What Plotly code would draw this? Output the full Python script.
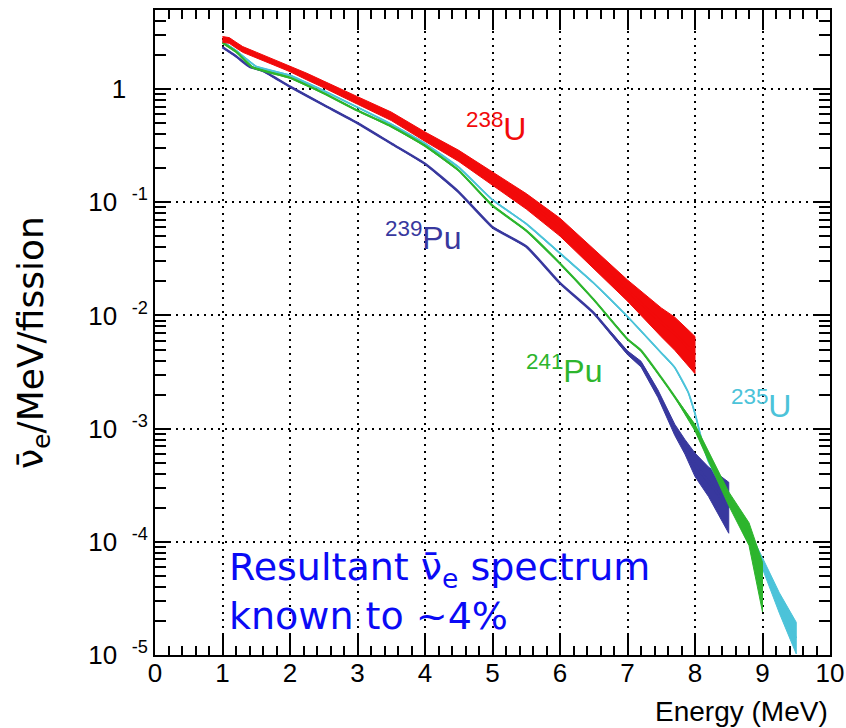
import numpy as np
import plotly.graph_objects as go

# Reactor antineutrino spectra per fission for the four main fissile isotopes.
# flux_* : nu_e / MeV / fission ; err_* : fractional band half-width

energy_u238 = [1.0, 1.1, 1.2, 1.3, 1.5, 1.75, 2.0, 2.25, 2.5, 2.75, 3.0, 3.5,
               4.0, 4.5, 5.0, 5.5, 6.0, 6.5, 7.0, 7.5, 7.7, 8.0]
flux_u238 = [2.75, 2.69, 2.45, 2.24, 2.00, 1.74, 1.51, 1.29, 1.10, 0.933, 0.794, 0.575,
             0.380, 0.257, 0.162, 0.102, 0.0603, 0.0316, 0.0166, 0.0087, 0.0069, 0.00447]
err_u238 = [0.06, 0.06, 0.06, 0.06, 0.06, 0.06, 0.06, 0.07, 0.07, 0.07, 0.08, 0.09,
            0.10, 0.12, 0.14, 0.17, 0.20, 0.22, 0.24, 0.34, 0.40, 0.46]

energy_u235 = [1.0, 1.2, 1.5, 2.0, 2.5, 3.0, 3.5, 4.0, 4.5, 5.0, 5.5, 6.0, 6.5,
               7.0, 7.5, 7.7, 7.9, 8.0, 8.1, 8.2, 8.5, 8.8, 9.0, 9.25, 9.5]
flux_u235 = [2.63, 2.19, 1.58, 1.32, 0.966, 0.692, 0.490, 0.331, 0.204, 0.105, 0.0646,
             0.0355, 0.0193, 0.00977, 0.00468, 0.00347, 0.00209, 0.00136, 7.94e-4,
             5.13e-4, 2.40e-4, 1.26e-4, 6.46e-5, 2.88e-5, 1.41e-5]
err_u235 = [0.01] * 22 + [0.12, 0.23, 0.38]

energy_pu241 = [1.0, 1.2, 1.45, 2.0, 2.5, 3.0, 3.5, 4.0, 4.5, 5.0, 5.5, 6.0, 6.5,
                7.0, 7.2, 7.5, 7.7, 8.0, 8.2, 8.5, 8.8, 9.0]
flux_pu241 = [2.57, 2.14, 1.55, 1.26, 0.920, 0.646, 0.468, 0.316, 0.191, 0.0933,
              0.0562, 0.0288, 0.0138, 0.00617, 0.00490, 0.00282, 0.00191, 0.00102,
              5.75e-4, 2.40e-4, 1.17e-4, 3.98e-5]
err_pu241 = [0.01] * 17 + [0.07, 0.10, 0.15, 0.26, 0.66]

energy_pu239 = [1.0, 1.2, 1.4, 1.6, 2.0, 2.5, 3.0, 3.5, 4.0, 4.5, 5.0, 5.5, 6.0, 6.5,
                7.0, 7.2, 7.45, 7.7, 7.85, 8.0, 8.2, 8.5]
flux_pu239 = [2.34, 1.95, 1.58, 1.45, 1.05, 0.724, 0.501, 0.331, 0.219, 0.123, 0.0603,
              0.0407, 0.0193, 0.0105, 0.00468, 0.00372, 0.00204, 9.77e-4, 6.92e-4,
              4.79e-4, 3.39e-4, 2.00e-4]
err_pu239 = [0.01] * 14 + [0.04, 0.06, 0.08, 0.12, 0.16, 0.27, 0.35, 0.68]

x_ticks = list(range(0, 11))
y_ticks = [1e-5, 1e-4, 1e-3, 1e-2, 1e-1, 1]
y_ticktext = ["10\u00a0\u00a0<sup>-5</sup>", "10\u00a0\u00a0<sup>-4</sup>",
              "10\u00a0\u00a0<sup>-3</sup>", "10\u00a0\u00a0<sup>-2</sup>",
              "10\u00a0\u00a0<sup>-1</sup>", "1\u00a0\u00a0\u00a0"]

RED = "#f20a0a"
BLUE = "#38389e"
GREEN = "#2db52d"
CYAN = "#4cc3d9"
TEXT_BLUE = "#0a0af5"


def band(energy, flux, err):
    e = np.asarray(energy, dtype=float)
    f = np.asarray(flux, dtype=float)
    s = np.asarray(err, dtype=float)
    hi = f * (1 + s)
    lo = f / (1 + s)
    return np.concatenate([e, e[::-1]]), np.concatenate([hi, lo[::-1]])


fig = go.Figure()

series = [
    (energy_pu239, flux_pu239, err_pu239, BLUE, 2.5),
    (energy_u235, flux_u235, err_u235, CYAN, 1.8),
    (energy_pu241, flux_pu241, err_pu241, GREEN, 2.2),
    (energy_u238, flux_u238, err_u238, RED, 2.5),
]
for energy, flux, err, color, lw in series:
    bx, by = band(energy, flux, err)
    fig.add_trace(go.Scatter(x=bx, y=by, mode="lines", fill="toself",
                             fillcolor=color, line=dict(color=color, width=1),
                             hoverinfo="skip", showlegend=False))
    fig.add_trace(go.Scatter(x=energy, y=flux, mode="lines",
                             line=dict(color=color, width=lw, shape="spline", smoothing=0.5),
                             showlegend=False))

# minor log ticks 2..9 in each decade
minor_y = [m * 10.0 ** d for d in range(-5, 1) for m in range(2, 10) if m * 10.0 ** d <= 5]

tick_font = dict(family="Liberation Sans, Arial, sans-serif", size=26, color="black")

fig.update_layout(
    template="none",
    xaxis=dict(
        range=[0, 10], tickmode="array", tickvals=x_ticks,
        ticks="inside", ticklen=20, tickwidth=2, tickcolor="black",
        showline=True, linewidth=2, linecolor="black", mirror="ticks",
        showgrid=True, gridcolor="black", gridwidth=2, griddash="2px,5px",
        zeroline=False, tickfont=tick_font, layer="above traces",
        ticklabelstandoff=-6,
        minor=dict(dtick=0.2, ticks="inside", ticklen=9, tickwidth=1.5,
                   tickcolor="black", showgrid=False),
    ),
    yaxis=dict(
        type="log", range=[-5, float(np.log10(5))], tickmode="array",
        tickvals=y_ticks, ticktext=y_ticktext,
        ticks="inside", ticklen=15, tickwidth=2, tickcolor="black",
        showline=True, linewidth=2, linecolor="black", mirror="ticks",
        showgrid=True, gridcolor="black", gridwidth=2, griddash="2px,5px",
        zeroline=False, tickfont=tick_font, layer="above traces",
        minor=dict(tickmode="array", tickvals=minor_y, ticks="inside", ticklen=11,
                   tickwidth=1.5, tickcolor="black", showgrid=False),
    ),
)

iso_font = "Liberation Sans, Arial, sans-serif"
annotations = [
    dict(x=5.05, y=-0.335, text="<sup>238</sup>U", font=dict(family=iso_font, size=32, color=RED)),
    dict(x=3.98, y=-1.295, text="<sup>239</sup>Pu", font=dict(family=iso_font, size=32, color=BLUE)),
    dict(x=6.07, y=-2.476, text="<sup>241</sup>Pu", font=dict(family=iso_font, size=32, color=GREEN)),
    dict(x=8.98, y=-2.784, text="<sup>235</sup>U", font=dict(family=iso_font, size=32, color=CYAN)),
    dict(x=1.07, y=-4.44, xanchor="left", align="left",
         text="Resultant \u03bd\u0304<sub>e</sub> spectrum<br>known to ~4%",
         font=dict(family="DejaVu Sans", size=38, color=TEXT_BLUE)),
]
for a in annotations:
    a.setdefault("xanchor", "center")
    a["yanchor"] = "middle"
    a["xref"] = "x"
    a["yref"] = "y"
    a["showarrow"] = False
    fig.add_annotation(**a)

fig.add_annotation(xref="paper", yref="paper", x=-0.181, y=0.485,
                   text="\u03bd\u0304<sub>e</sub>/MeV/fission", textangle=-90,
                   showarrow=False, xanchor="center", yanchor="middle",
                   font=dict(family="DejaVu Sans", size=36, color="black"))
fig.add_annotation(xref="paper", yref="paper", x=1.0, y=-0.088,
                   text="Energy (MeV)", showarrow=False,
                   xanchor="right", yanchor="middle",
                   font=dict(family="Liberation Sans, Arial, sans-serif", size=28, color="black"))

fig.update_layout(
    width=846, height=728,
    margin=dict(l=155, r=16, t=10, b=73),
    paper_bgcolor="white", plot_bgcolor="white",
    showlegend=False,
)

fig.write_html("out.html")
